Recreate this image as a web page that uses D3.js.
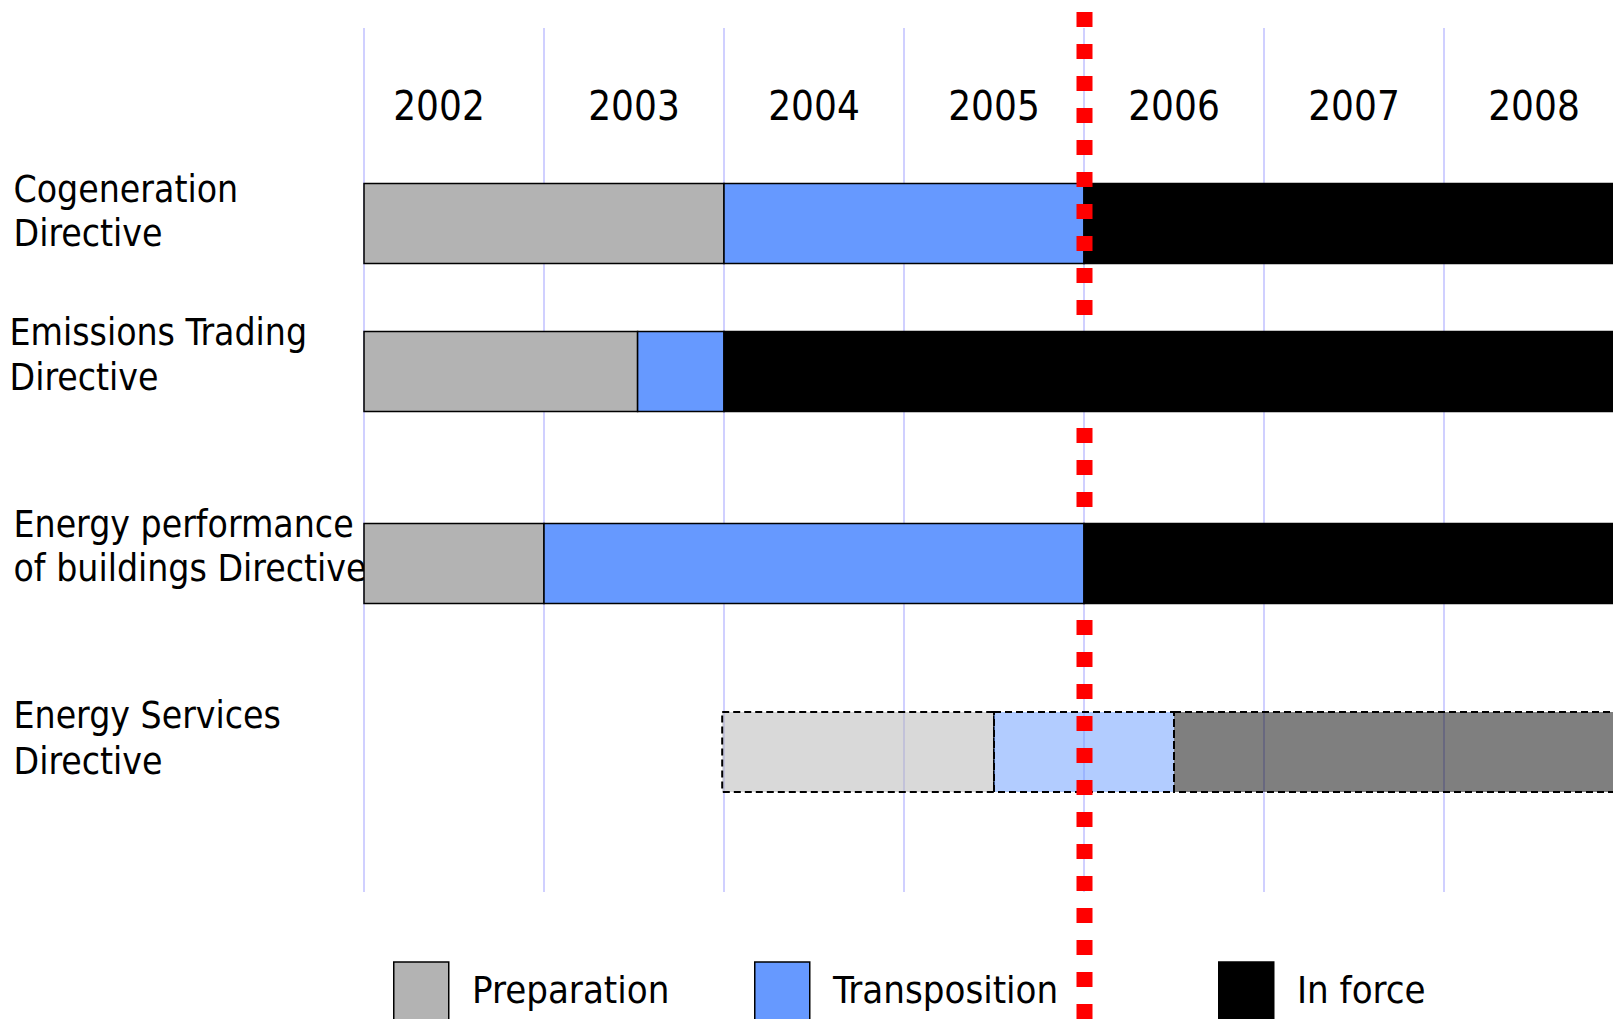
<!DOCTYPE html>
<html>
<head>
<meta charset="utf-8">
<script src="https://cdn.jsdelivr.net/npm/d3@7"></script>
<style>
  html, body { margin: 0; padding: 0; background: #fff; overflow: hidden; }
  svg { display: block; }
  text { font-family: "DejaVu Sans Condensed", "DejaVu Sans", sans-serif; font-stretch: condensed; fill: #000; }
</style>
</head>
<body>
<svg id="chart" width="1613" height="1019"></svg>
<script>
// Timeline of EU energy directives: preparation, transposition and in-force phases
const years = [2002, 2003, 2004, 2005, 2006, 2007, 2008];
const directives = [
  "Cogeneration Directive",
  "Emissions Trading Directive",
  "Energy performance of buildings Directive",
  "Energy Services Directive"
];
const labelLines = [
  ["Cogeneration", "Directive"],
  ["Emissions Trading", "Directive"],
  ["Energy performance", "of buildings Directive"],
  ["Energy Services", "Directive"]
];
const preparationStart = [2002, 2002, 2002, 2003.99];
const transpositionStart = [2004, 2003.52, 2003, 2005.5];
const inForceStart = [2006, 2004, 2006, 2006.5];
const timelineEnd = 2009;
const isProposal = [false, false, false, true];
const phases = ["Preparation", "Transposition", "In force"];
const phaseColors = ["#b3b3b3", "#6699ff", "#000000"];
const currentDate = 2006;

const svg = d3.select("#chart");
const W = 1613, H = 1019;

const x = d3.scaleLinear().domain([2002, 2009]).range([364, 1624]);
const rowCenter = d3.scaleOrdinal().domain(directives).range([223.5, 371.5, 563.5, 752]);
const color = d3.scaleOrdinal().domain(phases).range(phaseColors);
const barH = 80;

// vertical year grid
svg.append("g").selectAll("line").data(years).join("line")
  .attr("x1", d => x(d)).attr("x2", d => x(d))
  .attr("y1", 28).attr("y2", 892)
  .attr("stroke", "#d0d0ff").attr("stroke-width", 2);

// year labels centred in each year column
svg.append("g").selectAll("text").data(years).join("text")
  .attr("x", d => x(d + 0.5))
  .attr("dx", (d, i) => i === 0 ? -15 : 0)
  .attr("y", 120)
  .attr("text-anchor", "middle")
  .attr("font-size", 40)
  .text(d => d);

// directive names (two lines each)
const labelDy = [[-22, 22.5], [-26.5, 18], [-27, 17], [-24.5, 21.5]];
const labelX = [13.5, 9.5, 13.5, 13.5];
const labels = svg.append("g");
directives.forEach((name, i) => {
  const t = labels.append("text")
    .attr("x", labelX[i])
    .attr("font-size", 37);
  labelLines[i].forEach((line, j) => {
    t.append("tspan")
      .attr("x", labelX[i])
      .attr("y", rowCenter(name) + labelDy[i][j])
      .text(line);
  });
});

// segments for each directive
const segments = directives.map((name, i) => {
  const bounds = [preparationStart[i], transpositionStart[i], inForceStart[i], timelineEnd];
  return phases.map((p, k) => ({
    row: i, name, phase: p, start: bounds[k], end: bounds[k + 1], proposal: isProposal[i]
  }));
});

function drawRow(g, segs) {
  g.selectAll("rect").data(segs).join("rect")
    .attr("x", d => x(d.start))
    .attr("width", d => x(d.end) - x(d.start))
    .attr("y", d => rowCenter(d.name) - barH / 2)
    .attr("height", barH)
    .attr("fill", d => color(d.phase))
    .attr("fill-opacity", d => d.proposal ? 0.5 : 1)
    .attr("stroke", "#000")
    .attr("stroke-width", d => d.proposal ? 2 : 1.5)
    .attr("stroke-dasharray", d => d.proposal ? "7,4" : null);
}

// rows beneath the current-date marker
const lower = svg.append("g");
[0, 3].forEach(i => drawRow(lower.append("g"), segments[i]));

// current-date marker
svg.append("line")
  .attr("x1", x(currentDate) + 0.5).attr("x2", x(currentDate) + 0.5)
  .attr("y1", 12).attr("y2", H + 20)
  .attr("stroke", "#ff0000")
  .attr("stroke-width", 16)
  .attr("stroke-dasharray", "15,17");

// rows drawn over the marker
const upper = svg.append("g");
[1, 2].forEach(i => drawRow(upper.append("g"), segments[i]));

// legend
const legendX = d3.scaleOrdinal().domain(phases).range([393, 754, 1218]);
const legend = svg.append("g");
legend.selectAll("rect").data(phases).join("rect")
  .attr("x", d => legendX(d) + 0.75)
  .attr("y", 962)
  .attr("width", 55)
  .attr("height", 80)
  .attr("fill", d => color(d))
  .attr("stroke", "#000")
  .attr("stroke-width", 1.5);
legend.selectAll("text").data(phases).join("text")
  .attr("x", d => legendX(d) + 79)
  .attr("y", 1003)
  .attr("font-size", 38)
  .text(d => d);
</script>
</body>
</html>
